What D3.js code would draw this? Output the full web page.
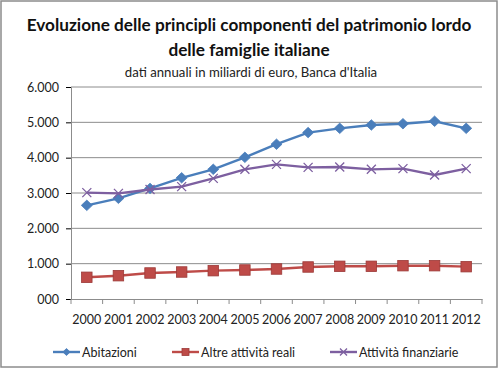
<!DOCTYPE html>
<html>
<head>
<meta charset="utf-8">
<script src="https://cdn.jsdelivr.net/npm/d3@7"></script>
<style>
  body { margin: 0; background: #fff; }
  svg { font-family: Lato, "Open Sans", sans-serif; }
</style>
</head>
<body>
<div id="chart"></div>
<script>
'use strict';

// Data
const years = ['2000', '2001', '2002', '2003', '2004', '2005', '2006', '2007', '2008', '2009', '2010', '2011', '2012'];
const abitazioni = [2650, 2850, 3130, 3430, 3670, 4010, 4380, 4710, 4830, 4925, 4960, 5030, 4830];
const altreReali = [614, 660, 736, 764, 802, 821, 849, 906, 925, 925, 943, 943, 915];
const finanziarie = [3010, 2990, 3100, 3180, 3415, 3670, 3810, 3725, 3735, 3670, 3690, 3510, 3690];
const yTicks = [0, 1000, 2000, 3000, 4000, 5000, 6000];

const series = [
    {name: 'Abitazioni', values: abitazioni, color: '#4A7EBB', marker: 'diamond'},
    {name: 'Altre attività reali', values: altreReali, color: '#BE4B48', marker: 'square'},
    {name: 'Attività finanziarie', values: finanziarie, color: '#7D5FA0', marker: 'x'}
];

// Config
const w = 500, h = 370;
const m = {top: 87, right: 18, bottom: 71, left: 71};

const svg = d3.select('#chart').append('svg')
    .attr('width', w)
    .attr('height', h);

// Frame
svg.append('rect')
    .attr('x', 1).attr('y', 1)
    .attr('width', w - 4).attr('height', h - 4)
    .attr('fill', '#fff')
    .attr('stroke', '#8c8c8c')
    .attr('stroke-width', 1.5);

// Titles
svg.append('text')
    .attr('x', 249).attr('y', 31)
    .attr('text-anchor', 'middle')
    .attr('font-size', 17.2).attr('font-weight', 'bold')
    .attr('fill', '#111')
    .text('Evoluzione delle principli componenti del patrimonio lordo');
svg.append('text')
    .attr('x', 249).attr('y', 56)
    .attr('text-anchor', 'middle')
    .attr('font-size', 17.2).attr('font-weight', 'bold')
    .attr('fill', '#111')
    .text('delle famiglie italiane');
svg.append('text')
    .attr('x', 251).attr('y', 77)
    .attr('text-anchor', 'middle')
    .attr('font-size', 13.2)
    .attr('fill', '#222')
    .text("dati annuali in miliardi di euro, Banca d'Italia");

// Scales
const x = d3.scaleBand()
    .domain(years)
    .range([m.left, w - m.right]);
const y = d3.scaleLinear()
    .domain([0, 6000])
    .range([h - m.bottom, m.top]);

// Gridlines
svg.append('g')
    .selectAll('line')
    .data(yTicks.slice(1))
    .join('line')
    .attr('x1', m.left).attr('x2', w - m.right)
    .attr('y1', d => y(d)).attr('y2', d => y(d))
    .attr('stroke', '#8c8c8c')
    .attr('stroke-width', 1);

// Axes
const fmt = d => d === 0 ? '000' : d3.format(',')(d).replace(/,/g, '.');
const yAxis = svg.append('g')
    .attr('transform', `translate(${m.left},0)`)
    .call(d3.axisLeft(y).tickValues(yTicks).tickFormat(fmt).tickSize(5).tickPadding(7));
yAxis.selectAll('text').attr('font-size', 12.5).attr('fill', '#222').attr('font-family', 'Lato, sans-serif');

const xAxis = svg.append('g')
    .attr('transform', `translate(0,${h - m.bottom})`)
    .call(d3.axisBottom(x).tickSize(0).tickPadding(16));
xAxis.selectAll('text').attr('font-size', 12.5).attr('fill', '#222').attr('font-family', 'Lato, sans-serif');
xAxis.selectAll('.tick')
    .append('line')
    .attr('x1', -x.bandwidth() / 2).attr('x2', -x.bandwidth() / 2)
    .attr('y1', 0).attr('y2', 5)
    .attr('stroke', '#8c8c8c');
xAxis.append('line')
    .attr('x1', w - m.right).attr('x2', w - m.right)
    .attr('y1', 0).attr('y2', 5)
    .attr('stroke', '#8c8c8c');
svg.selectAll('.domain').attr('stroke', '#8c8c8c');

// Marker shapes
function drawMarker(g, type, color, size) {
    const s = size / 2;
    if (type === 'diamond') {
        g.append('path')
            .attr('d', `M0,${-s}L${s * 1.05},0L0,${s}L${-s * 1.05},0Z`)
            .attr('fill', color)
            .attr('stroke', color)
            .attr('stroke-width', 0.8);
    } else if (type === 'square') {
        g.append('rect')
            .attr('x', -s).attr('y', -s)
            .attr('width', size).attr('height', size)
            .attr('fill', color)
            .attr('stroke', '#9c3a38')
            .attr('stroke-width', 0.8);
    } else {
        g.append('path')
            .attr('d', `M${-s},${-s}L${s},${s}M${-s},${s}L${s},${-s}`)
            .attr('stroke', color)
            .attr('stroke-width', 1.3)
            .attr('fill', 'none');
    }
}

const line = d3.line()
    .x((d, i) => x(years[i]) + x.bandwidth() / 2)
    .y(d => y(d));

// Draw series
series.forEach(s => {
    const g = svg.append('g');
    g.append('path')
        .datum(s.values)
        .attr('d', line)
        .attr('fill', 'none')
        .attr('stroke', s.color)
        .attr('stroke-width', 2.4);
    s.values.forEach((v, i) => {
        const mg = g.append('g')
            .attr('transform', `translate(${x(years[i]) + x.bandwidth() / 2},${y(v)})`);
        drawMarker(mg, s.marker, s.color, s.marker === 'x' ? 9 : 10.5);
    });
});

// Legend
const legendPos = [53, 172, 330];
const legend = svg.append('g');
series.forEach((s, i) => {
    const lg = legend.append('g')
        .attr('transform', `translate(${legendPos[i]},352)`);
    lg.append('line')
        .attr('x1', 0).attr('x2', 27)
        .attr('stroke', s.color)
        .attr('stroke-width', 2.4);
    const mg = lg.append('g').attr('transform', 'translate(13.5,0)');
    drawMarker(mg, s.marker, s.color, 7);
    lg.append('text')
        .attr('x', 29).attr('y', 4.5)
        .attr('font-size', 12.5)
        .attr('fill', '#222')
        .text(s.name);
});
</script>
</body>
</html>
